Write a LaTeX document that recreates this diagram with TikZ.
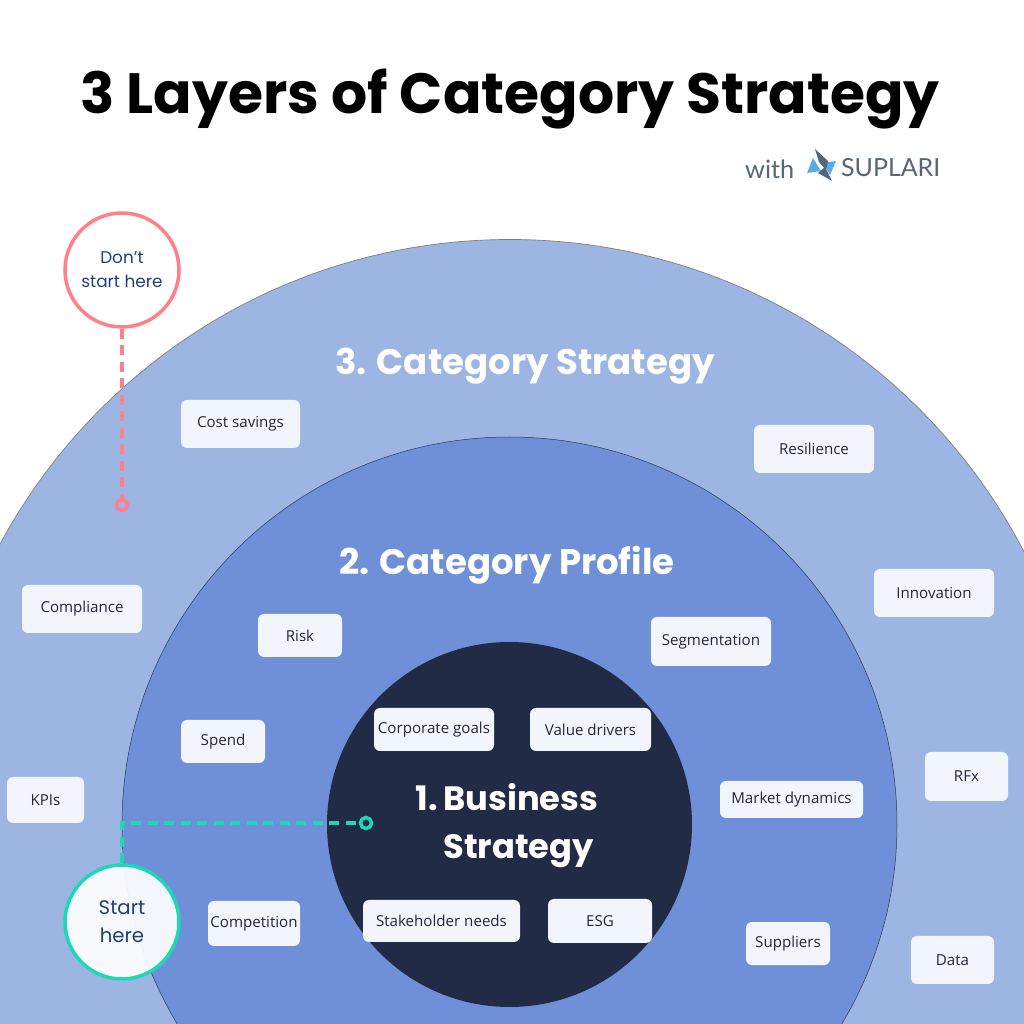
\documentclass[tikz,border=0pt]{standalone}
\usepackage{fontspec}
\setmainfont{Poppins}
\newfontfamily\tagfont{Open Sans}
\newfontfamily\logofont{Lato}
\definecolor{outerblue}{HTML}{9DB5E3}
\definecolor{midblue}{HTML}{6F90D8}
\definecolor{coredark}{HTML}{212B45}
\definecolor{tagwhite}{HTML}{F3F5FD}
\definecolor{tagtext}{HTML}{23263A}
\definecolor{notecol}{HTML}{1F4079}
\definecolor{startcol}{HTML}{1BD9B5}
\definecolor{stopcol}{HTML}{FF8088}
\definecolor{logogrey}{HTML}{56667A}
\definecolor{logoblue}{HTML}{55ADE0}
\tikzset{
    tagbox/.style={fill=tagwhite, rounded corners=0.06cm, inner sep=0pt, text=tagtext, font=\tagfont\fontsize{4.3}{5}\selectfont},
    layertitle/.style={text=white, font=\bfseries\fontsize{10.1}{13.6}\selectfont, inner sep=0pt},
    notecirc/.style={circle, minimum size=1.14cm, inner sep=0pt, line width=0.035cm, text=notecol, align=center},
    linkdash/.style={line width=0.04cm, dash pattern=on 0.1cm off 0.065cm},
    linkdot/.style={circle, draw, fill=none, minimum size=0.11cm, inner sep=0pt, line width=0.035cm}
}
\begin{document}
\begin{tikzpicture}
    \useasboundingbox (0,0) rectangle (10.24,10.24);
    \clip (0,0) rectangle (10.24,10.24);
    \fill[white] (0,0) rectangle (10.24,10.24);
    % layers
    \draw[fill=outerblue, draw=gray, line width=0.007cm] (5.10,2.055) circle (5.79);
    \draw[fill=midblue, draw=black!60!midblue, line width=0.005cm] (5.095,1.995) circle (3.875);
    \fill[coredark] (5.095,1.995) circle (1.825);
    % heading
    \node[inner sep=0pt, font=\bfseries\fontsize{16.15}{18}\selectfont] (title) at (5.10,9.25) {3 Layers of Category Strategy};
    \node[inner sep=0pt, anchor=east, text=logogrey, font=\logofont\fontsize{7.2}{8}\selectfont] (withlabel) at (7.95,8.55) {with};
    \node[inner sep=0pt, anchor=east, text=logogrey, font=\logofont\fontsize{7.1}{8}\selectfont] (suplari) at (9.41,8.56) {SUPLARI};
    % logo
    \fill[logoblue] (8.07,8.51) -- (8.13,8.66) -- (8.21,8.53) -- cycle;
    \fill[logoblue] (8.36,8.63) -- (8.23,8.61) -- (8.30,8.49) -- cycle;
    \fill[logogrey] (8.15,8.75) -- (8.28,8.63) -- (8.26,8.54) -- (8.19,8.62) -- cycle;
    \fill[logogrey] (8.32,8.43) -- (8.18,8.51) -- (8.25,8.57) -- cycle;
    % layer titles
    \node[layertitle] (strategy) at (5.25,6.58) {3. Category Strategy};
    \node[layertitle] (profile) at (5.07,4.59) {2. Category Profile};
    \node[layertitle, align=left, font=\bfseries\fontsize{9.6}{13.6}\selectfont] (business) at (5.07,1.98) {1.\,Business\\\phantom{1.\,}Strategy};
    % outer tags
    \node[tagbox, minimum width=1.19cm, minimum height=0.48cm] (cost) at (2.405,6.00) {Cost savings};
    \node[tagbox, minimum width=1.20cm, minimum height=0.48cm] (resilience) at (8.14,5.75) {Resilience};
    \node[tagbox, minimum width=1.20cm, minimum height=0.48cm] (compliance) at (0.82,4.15) {Compliance};
    \node[tagbox, minimum width=1.20cm, minimum height=0.48cm] (innovation) at (9.34,4.31) {Innovation};
    \node[tagbox, minimum width=0.83cm, minimum height=0.49cm] (rfx) at (9.665,2.475) {RFx};
    \node[tagbox, minimum width=0.77cm, minimum height=0.46cm] (kpis) at (0.455,2.24) {KPIs};
    \node[tagbox, minimum width=0.83cm, minimum height=0.48cm] (data) at (9.525,0.64) {Data};
    % middle tags
    \node[tagbox, minimum width=0.84cm, minimum height=0.43cm] (risk) at (3.00,3.885) {Risk};
    \node[tagbox, minimum width=1.20cm, minimum height=0.49cm] (segmentation) at (7.11,3.825) {Segmentation};
    \node[tagbox, minimum width=0.84cm, minimum height=0.43cm] (spend) at (2.23,2.825) {Spend};
    \node[tagbox, minimum width=1.43cm, minimum height=0.37cm] (market) at (7.915,2.245) {Market dynamics};
    \node[tagbox, minimum width=0.92cm, minimum height=0.45cm] (competition) at (2.54,1.005) {Competition};
    \node[tagbox, minimum width=0.84cm, minimum height=0.43cm] (suppliers) at (7.88,0.805) {Suppliers};
    % inner tags
    \node[tagbox, minimum width=1.20cm, minimum height=0.43cm] (corporate) at (4.34,2.945) {Corporate goals};
    \node[tagbox, minimum width=1.21cm, minimum height=0.43cm] (value) at (5.905,2.945) {Value drivers};
    \node[tagbox, minimum width=1.57cm, minimum height=0.42cm] (stakeholder) at (4.415,1.03) {Stakeholder needs};
    \node[tagbox, minimum width=1.04cm, minimum height=0.44cm] (esg) at (6.00,1.03) {ESG};
    % notes
    \node[notecirc, draw=stopcol, fill=white, font=\fontsize{4.8}{6.8}\selectfont] (dontstart) at (1.22,7.54) {Don’t\\start here};
    \node[linkdot, draw=stopcol] (stopdot) at (1.22,5.19) {};
    \draw[linkdash, draw=stopcol] (dontstart) -- (stopdot);
    \node[notecirc, draw=startcol, fill=white, fill opacity=0.92, text opacity=1, font=\fontsize{5.6}{8}\selectfont] (starthere) at (1.22,1.02) {Start\\here};
    \node[linkdot, draw=startcol] (startdot) at (3.66,2.01) {};
    \draw[linkdash, draw=startcol] (starthere) |- (startdot);
\end{tikzpicture}
\end{document}
